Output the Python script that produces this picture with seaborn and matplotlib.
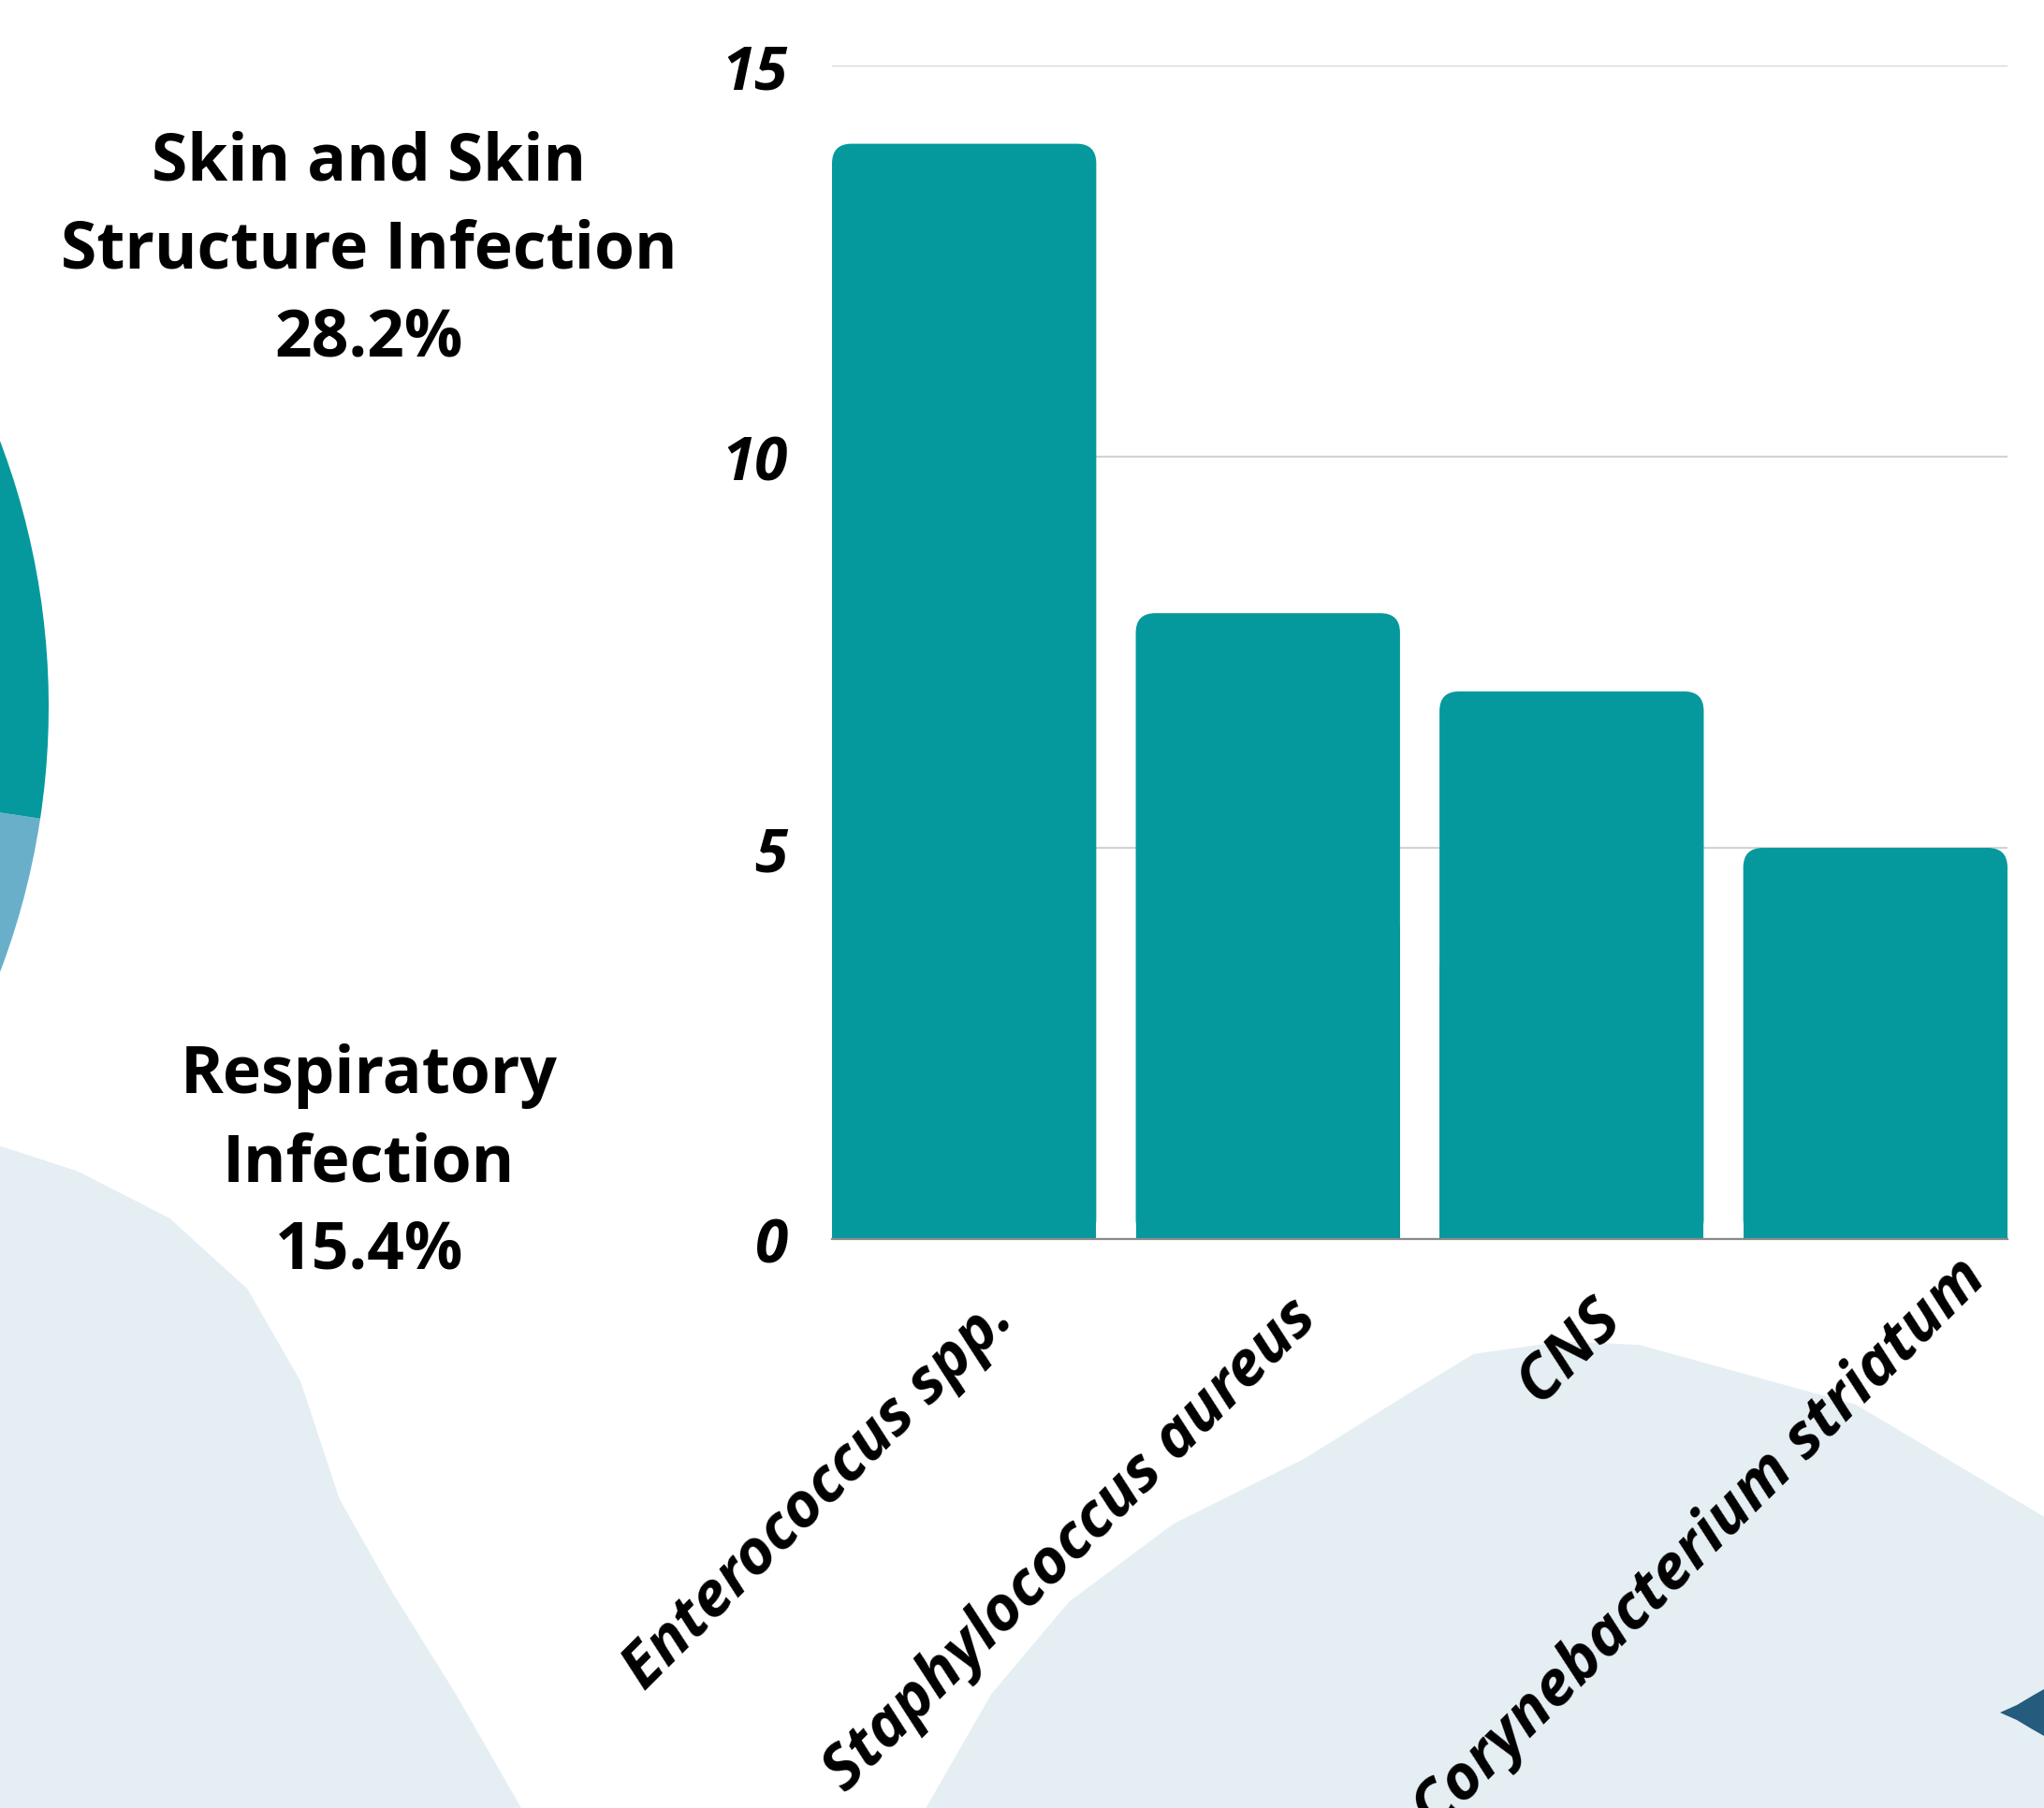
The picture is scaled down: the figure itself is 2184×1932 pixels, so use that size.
import numpy as np
import pandas as pd
import matplotlib
matplotlib.use("Agg")
import matplotlib.pyplot as plt
import matplotlib.transforms as mtrans
import seaborn as sns
from matplotlib.patches import FancyBboxPatch, Rectangle, Polygon

# ---- data ----
organisms = ["Enterococcus spp.", "Staphylococcus aureus", "CNS", "Corynebacterium striatum"]
counts = [14, 8, 7, 5]
y_ticks = [0, 5, 10, 15]
pie_labels = ["Respiratory\nInfection\n15.4%", "Skin and Skin\nStructure Infection\n28.2%"]
pie_shares = [0.154, 0.282]

TEAL = "#05999D"
LIGHT = "#6AAFCA"
DARK = "#255B7D"
BLOB = "#E5EEF3"

sns.set_theme(style="white")
plt.rcParams["font.family"] = ["Open Sans", "DejaVu Sans"]

W, H = 2184, 1933
fig = plt.figure(figsize=(W / 100, H / 100), dpi=100)
fig.patch.set_facecolor("white")

# decorative background blobs
left_blob = [(0, 0.366), (0.038, 0.352), (0.083, 0.326), (0.121, 0.287), (0.147, 0.236),
             (0.166, 0.171), (0.191, 0.121), (0.223, 0.063), (0.255, 0), (0, 0)]
right_blob = [(0.453, 0), (0.485, 0.063), (0.523, 0.114), (0.574, 0.157), (0.638, 0.193),
              (0.689, 0.229), (0.721, 0.251), (0.765, 0.258), (0.802, 0.256), (0.908, 0.223),
              (1.0, 0.161), (1.0, 0)]
fig.patches.append(Polygon(left_blob, closed=True, transform=fig.transFigure,
                           facecolor=BLOB, edgecolor="none", zorder=-2))
fig.patches.append(Polygon(right_blob, closed=True, transform=fig.transFigure,
                           facecolor=BLOB, edgecolor="none", zorder=-2))
star = [(2184, 1806), (2170, 1814), (2155, 1823), (2137, 1831), (2155, 1839),
        (2170, 1848), (2184, 1856)]
star = [(x / W, 1 - y / H) for x, y in star]
fig.patches.append(Polygon(star, closed=True, transform=fig.transFigure,
                           facecolor=DARK, edgecolor="none", zorder=-1))

# ---- pie (mostly off-canvas on the left) ----
R = 801
cx, cy = -749, 756
pax = fig.add_axes([(cx - R) / W, (H - cy - R) / H, 2 * R / W, 2 * R / H])
pax.pie(pie_shares, colors=[LIGHT, TEAL], startangle=-8.6 - 360 * pie_shares[0],
        normalize=False, radius=1, wedgeprops=dict(linewidth=0))
pax.set_xlim(-1, 1)
pax.set_ylim(-1, 1)
pax.set_axis_off()

fig.text(0.1805, 0.861, pie_labels[1], ha="center", va="center", fontsize=50,
         fontweight="bold", color="black", linespacing=1.45)
fig.text(0.1805, 0.3564, pie_labels[0], ha="center", va="center", fontsize=50,
         fontweight="bold", color="black", linespacing=1.45)

# ---- bar chart ----
ax = fig.add_axes([889 / W, 1 - 1325 / H, (2145 - 889) / W, (1325 - 71) / H])
ax.set_facecolor("none")
df = pd.DataFrame({"organism": organisms, "count": counts})
bw = 0.87
sns.barplot(data=df, x="organism", y="count", color=TEAL, saturation=1,
            width=bw, ax=ax, zorder=2)
ax.set_xlim(-bw / 2, len(organisms) - 1 + bw / 2)
ax.set_ylim(0, 15)
ax.set_yticks(y_ticks)
ax.set_xlabel("")
ax.set_ylabel("")
ax.yaxis.grid(True, color="#D3D3D3", linewidth=1.6)
ax.xaxis.grid(False)
ax.set_axisbelow(True)
for s in ["top", "right", "left"]:
    ax.spines[s].set_visible(False)
ax.spines["bottom"].set_color("#8A8A8A")
ax.spines["bottom"].set_linewidth(1.6)
ax.spines["bottom"].set_zorder(3)
ax.tick_params(axis="both", length=0)
ax.tick_params(axis="y", pad=34)

# rounded top corners on the seaborn bars
fig.canvas.draw()
px_x = ax.transData.transform((1, 0))[0] - ax.transData.transform((0, 0))[0]
px_y = ax.transData.transform((0, 1))[1] - ax.transData.transform((0, 0))[1]
r_px = 21
for p in list(ax.patches):
    x, y, w, h = p.get_x(), p.get_y(), p.get_width(), p.get_height()
    p.set_visible(False)
    ax.add_patch(FancyBboxPatch((x, y), w, h,
                                boxstyle=f"round,pad=0,rounding_size={r_px / px_x}",
                                mutation_aspect=px_x / px_y,
                                facecolor=TEAL, edgecolor="none", zorder=2))
    ax.add_patch(Rectangle((x, y), w, h / 2, facecolor=TEAL, edgecolor="none", zorder=2))

ax.set_yticklabels([str(t) for t in y_ticks], fontsize=46, fontweight="bold",
                   fontstyle="italic", color="black")
ax.set_xticks(range(len(organisms)))
ax.set_xticklabels(organisms, fontsize=48, fontweight="bold", fontstyle="italic",
                   color="black", rotation=45, ha="right", va="top",
                   rotation_mode="anchor")
labs = ax.get_xticklabels()
for i, lab in enumerate(labs):
    if i == len(labs) - 1:
        off = mtrans.ScaledTranslation(84 / 100, -2 / 100, fig.dpi_scale_trans)
    else:
        off = mtrans.ScaledTranslation(19 / 100, -45 / 100, fig.dpi_scale_trans)
    lab.set_transform(lab.get_transform() + off)

fig.savefig("out.png", dpi=100, facecolor="white")
